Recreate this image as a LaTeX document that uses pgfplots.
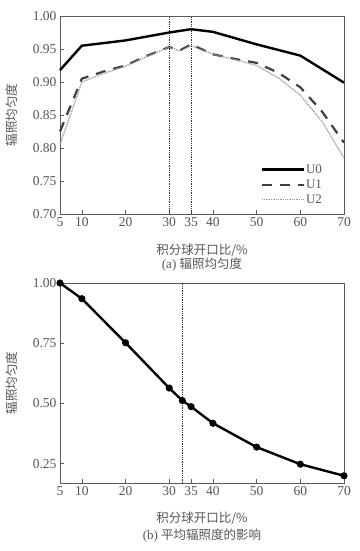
\documentclass[border=0pt]{standalone}
\usepackage{pgfplots}
\pgfplotsset{compat=1.18}
\usepackage{fontspec}
\setmainfont{Liberation Serif}
\newfontfamily\cjk{Noto Sans CJK SC}
\definecolor{tickgray}{RGB}{85,85,85}
\definecolor{framegray}{RGB}{90,90,90}
\begin{document}
\begin{tikzpicture}
\pgfplotsset{
  every axis/.append style={
    scale only axis, width=284pt,
    xmin=5, xmax=70,
    xtick={5,10,20,30,35,40,50,60,70},
    tick align=inside, tick pos=left,
    axis line style={framegray, line width=0.8pt},
    major tick style={framegray, line width=0.6pt},
    ticklabel style={font=\fontsize{13.5}{15}\selectfont, text=tickgray},
    /pgf/number format/assume math mode=true,
    /pgf/number format/fixed, /pgf/number format/fixed zerofill,
    /pgf/number format/precision=2,
    xticklabel style={/pgf/number format/precision=0, /pgf/number format/fixed zerofill=false},
    clip=false,
  }
}
\path (-60pt,214pt) rectangle (299pt,-337pt);
% ---------- (a)
\begin{axis}[at={(0,0)}, anchor=south west, height=198pt,
  ymin=0.70, ymax=1.00, ytick={0.70,0.75,0.80,0.85,0.90,0.95,1.00},
  legend style={draw=none, fill=none, at={(0.93,0.035)}, anchor=south east,
    font=\fontsize{13}{14}\selectfont, text=tickgray, row sep=3pt,
    inner sep=1pt,
    nodes={inner sep=1pt},
    /tikz/every even column/.append style={column sep=0pt}},
  legend cell align=left,
  legend image code/.code={\draw[#1] (0pt,0pt) -- (42pt,0pt);},
]
\addplot[black, line width=2.4pt] coordinates {
 (5,0.918) (10,0.955) (20,0.963) (30,0.975) (35,0.980) (40,0.976) (50,0.957) (60,0.940) (70,0.899)};
\addlegendentry{U0}
\addplot[black!75, line width=2.2pt, dash pattern=on 10pt off 8pt] coordinates {
 (5,0.825) (10,0.905) (15,0.916) (20,0.925) (25,0.940) (30,0.953) (32.5,0.948) (35,0.957) (40,0.942) (45,0.935) (50,0.929) (55,0.914) (60,0.892) (65,0.855) (70,0.808)};
\addlegendentry{U1}
\addplot[black!40, line width=1.3pt, densely dotted] coordinates {
 (5,0.805) (10,0.900) (15,0.913) (20,0.924) (25,0.939) (30,0.953) (32.5,0.947) (35,0.955) (40,0.942) (45,0.934) (50,0.925) (55,0.906) (60,0.880) (65,0.840) (70,0.785)};
\addlegendentry{U2}
\addplot[black!80, line width=0.8pt, densely dotted, forget plot] coordinates {(30,0.70) (30,1.00)};
\addplot[black!80, line width=0.8pt, densely dotted, forget plot] coordinates {(35,0.70) (35,1.00)};
\node[rotate=90, text=tickgray, font=\cjk\fontsize{12.5}{14}\selectfont] at (axis description cs:-0.17,0.5) {辐照均匀度};
\node[text=tickgray, font=\cjk\fontsize{12.5}{14}\selectfont] at ([yshift=-36pt]axis description cs:0.5,0) {积分球开口比/\%};
\node[text=tickgray, font=\fontsize{13}{14}\selectfont] at ([yshift=-51pt]axis description cs:0.5,0) {(a) {\cjk\fontsize{12.5}{14}\selectfont 辐照均匀度}};
\end{axis}
% ---------- (b)
\begin{axis}[at={(0,-269pt)}, anchor=south west, height=200pt,
  ymin=0.17, ymax=1.00, ytick={0.25,0.50,0.75,1.00},
]
\addplot[black, line width=2.4pt, mark=*, mark size=2.3pt, mark options={fill=black}] coordinates {
 (5,1.000) (10,0.935) (20,0.752) (30,0.564) (33,0.512) (35,0.487) (40,0.418) (50,0.319) (60,0.248) (70,0.200)};
\addplot[black!80, line width=0.8pt, densely dotted] coordinates {(33,0.17) (33,1.00)};
\node[rotate=90, text=tickgray, font=\cjk\fontsize{12.5}{14}\selectfont] at (axis description cs:-0.17,0.5) {辐照均匀度};
\node[text=tickgray, font=\cjk\fontsize{12.5}{14}\selectfont] at ([yshift=-35pt]axis description cs:0.5,0) {积分球开口比/\%};
\node[text=tickgray, font=\fontsize{13}{14}\selectfont] at ([yshift=-53pt]axis description cs:0.5,0) {(b) {\cjk\fontsize{12.5}{14}\selectfont 平均辐照度的影响}};
\end{axis}
\end{tikzpicture}
\end{document}
